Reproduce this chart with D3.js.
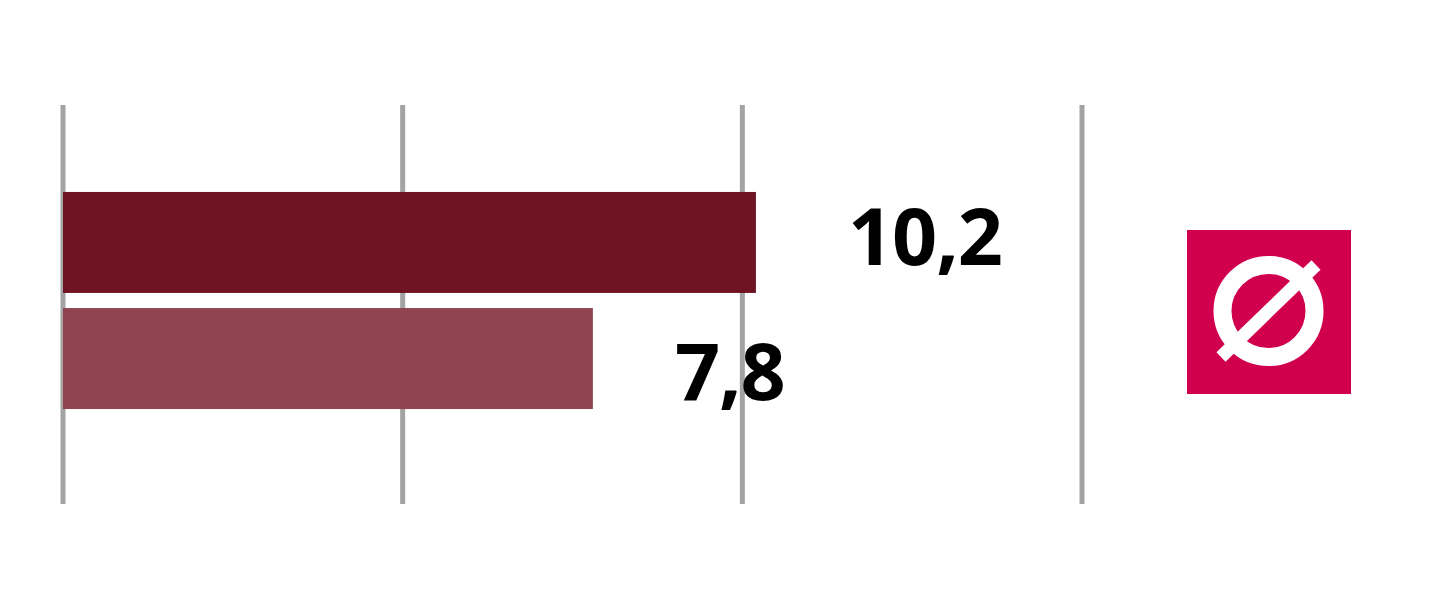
<!DOCTYPE html>
<html><head><meta charset="utf-8"><script src="https://cdn.jsdelivr.net/npm/d3@7"></script>
<style>html,body{margin:0;background:#fff}svg{display:block}</style></head><body>
<svg id="c" width="1440" height="605"></svg>
<script>
const categories=["A","B"];
const values=[10.2,7.8];
const labels=["10,2","7,8"];
const colors=["#6f1423","#8f444f"];
const ticks=[0,5,10,15];
const svg=d3.select("#c");
const x=d3.scaleLinear().domain([0,15]).range([63,1082]);
const y=d3.scaleBand().domain(categories).range([185,416]).paddingInner(0.13).paddingOuter(0.06);
svg.selectAll("line.t").data(ticks).join("line").attr("class","t")
 .attr("x1",d=>x(d)).attr("x2",d=>x(d)).attr("y1",105).attr("y2",504)
 .attr("stroke","#a3a3a3").attr("stroke-width",5);
svg.selectAll("rect.b").data(values).join("rect").attr("class","b")
 .attr("x",x(0)).attr("y",(d,i)=>y(categories[i])).attr("width",d=>x(d)-x(0)).attr("height",y.bandwidth())
 .attr("fill",(d,i)=>colors[i]);
const dx=[92,82], dy=[22.5,41.5];
svg.selectAll("text.l").data(values).join("text").attr("class","l")
 .attr("x",(d,i)=>x(d)+dx[i]).attr("y",(d,i)=>y(categories[i])+y.bandwidth()/2+dy[i])
 .attr("font-family","Open Sans").attr("font-weight",700).attr("font-size",79).attr("letter-spacing",-1).attr("fill","#000")
 .text((d,i)=>labels[i]);
const g=svg.append("g");
g.append("rect").attr("x",1187).attr("y",230).attr("width",164).attr("height",164).attr("fill","#d1004f");
g.append("circle").attr("cx",1268.5).attr("cy",311).attr("r",46).attr("fill","none").attr("stroke","#fff").attr("stroke-width",18);
g.append("line").attr("x1",1221).attr("y1",357).attr("x2",1316).attr("y2",265).attr("stroke","#fff").attr("stroke-width",13);
</script></body></html>
